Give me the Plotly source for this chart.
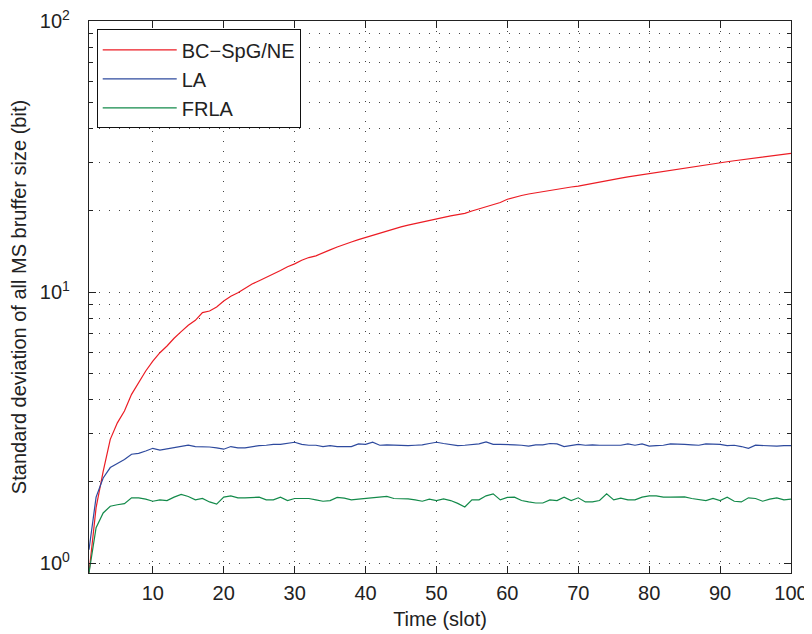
import plotly.graph_objects as go

time_slot = list(range(1, 101))

bc_spg_ne = [0.92, 1.60, 2.18, 2.86, 3.29, 3.64, 4.19, 4.63, 5.11, 5.56,
             5.97, 6.32, 6.75, 7.14, 7.54, 7.86, 8.39, 8.51, 8.80, 9.26,
             9.64, 9.94, 10.3, 10.7, 11.0, 11.3, 11.66, 12.0, 12.4, 12.7,
             13.1, 13.4, 13.6, 13.9, 14.3, 14.65, 15.0, 15.3, 15.6, 15.9,
             16.2, 16.5, 16.8, 17.1, 17.4, 17.65, 17.9, 18.15, 18.4, 18.65,
             18.9, 19.1, 19.3, 19.5, 19.9, 20.25, 20.6, 21.0, 21.4, 22.0,
             22.4, 22.7, 23.0, 23.25, 23.5, 23.7, 23.95, 24.15, 24.4, 24.6,
             24.85, 25.1, 25.4, 25.7, 26.0, 26.3, 26.6, 26.85, 27.1, 27.4,
             27.7, 27.95, 28.2, 28.5, 28.75, 29.0, 29.25, 29.5, 29.75, 30.0,
             30.25, 30.5, 30.75, 31.0, 31.25, 31.5, 31.75, 32.0, 32.25, 32.5]

la = [1.12, 1.75, 2.06, 2.25, 2.33, 2.41, 2.52, 2.54, 2.59, 2.65,
      2.61, 2.64, 2.66, 2.70, 2.72, 2.69, 2.69, 2.68, 2.66, 2.63,
      2.69, 2.66, 2.66, 2.69, 2.71, 2.72, 2.74, 2.74, 2.76, 2.79,
      2.74, 2.72, 2.72, 2.69, 2.71, 2.69, 2.69, 2.69, 2.75, 2.74,
      2.79, 2.72, 2.73, 2.72, 2.72, 2.71, 2.72, 2.73, 2.76, 2.79,
      2.76, 2.74, 2.71, 2.72, 2.74, 2.75, 2.80, 2.74, 2.74, 2.74,
      2.73, 2.72, 2.70, 2.73, 2.73, 2.76, 2.75, 2.69, 2.71, 2.74,
      2.72, 2.73, 2.72, 2.72, 2.72, 2.72, 2.75, 2.72, 2.75, 2.70,
      2.71, 2.72, 2.75, 2.75, 2.74, 2.73, 2.72, 2.75, 2.74, 2.74,
      2.71, 2.72, 2.69, 2.65, 2.72, 2.71, 2.71, 2.70, 2.71, 2.71]

frla = [0.92, 1.35, 1.53, 1.62, 1.64, 1.655, 1.74, 1.74, 1.72, 1.69,
        1.71, 1.70, 1.75, 1.79, 1.76, 1.71, 1.73, 1.68, 1.65, 1.75,
        1.77, 1.74, 1.74, 1.745, 1.75, 1.71, 1.71, 1.75, 1.70, 1.73,
        1.73, 1.73, 1.71, 1.69, 1.70, 1.745, 1.735, 1.71, 1.72, 1.73,
        1.745, 1.745, 1.76, 1.73, 1.73, 1.725, 1.71, 1.69, 1.72, 1.70,
        1.725, 1.70, 1.66, 1.61, 1.71, 1.71, 1.77, 1.80, 1.71, 1.745,
        1.75, 1.70, 1.68, 1.665, 1.665, 1.71, 1.70, 1.75, 1.70, 1.74,
        1.68, 1.68, 1.70, 1.80, 1.71, 1.735, 1.71, 1.71, 1.75, 1.77,
        1.77, 1.75, 1.75, 1.75, 1.755, 1.73, 1.71, 1.70, 1.73, 1.70,
        1.75, 1.69, 1.68, 1.74, 1.73, 1.69, 1.72, 1.74, 1.71, 1.72]

x_ticks = [10, 20, 30, 40, 50, 60, 70, 80, 90, 100]
x_ticklabels = ["10", "20", "30", "40", "50", "60", "70", "80", "90", "100"]
y_ticks = [1, 10, 100]
y_ticklabels = ["10<sup>0</sup>", "10<sup>1</sup>", "10<sup>2</sup>"]
y_minor = [2, 3, 4, 5, 6, 7, 8, 9, 20, 30, 40, 50, 60, 70, 80, 90]

FONT = "Liberation Sans, Arial, Helvetica, sans-serif"
GRID = "#444444"
DASH = "1px,9px"

fig = go.Figure()
fig.add_trace(go.Scatter(x=time_slot, y=bc_spg_ne, mode="lines", name="BC\u2212SpG/NE",
                         line=dict(color="#ec1c24", width=1.2)))
fig.add_trace(go.Scatter(x=time_slot, y=la, mode="lines", name="LA",
                         line=dict(color="#2e4a9e", width=1.2)))
fig.add_trace(go.Scatter(x=time_slot, y=frla, mode="lines", name="FRLA",
                         line=dict(color="#138a4a", width=1.2)))

fig.update_layout(
    width=804, height=627,
    margin=dict(l=81, r=21, t=13, b=62, autoexpand=False),
    paper_bgcolor="white", plot_bgcolor="white",
    font=dict(family=FONT, size=20, color="#222222"),
    showlegend=True,
    legend=dict(x=0.011, y=0.985, xanchor="left", yanchor="top",
                bgcolor="white", bordercolor="#111111", borderwidth=1,
                font=dict(size=20, family=FONT, color="#222222"),
                itemwidth=74, tracegroupgap=0, entrywidth=216),
)

fig.update_xaxes(
    range=[1, 100], tickvals=x_ticks, ticktext=x_ticklabels,
    ticks="inside", ticklen=7, tickwidth=1, tickcolor="#222222",
    showline=True, linecolor="#222222", linewidth=1.3, mirror="allticks",
    showgrid=True, gridcolor=GRID, gridwidth=1, griddash=DASH,
    zeroline=False, ticklabelstandoff=2, automargin=False,
    ticklabeloverflow="allow",
    title=dict(text="Time (slot)", font=dict(size=20, family=FONT), standoff=8),
)

fig.update_yaxes(
    type="log", range=[-0.0369, 2], tickvals=y_ticks, ticktext=y_ticklabels,
    ticks="inside", ticklen=7, tickwidth=1, tickcolor="#222222",
    showline=True, linecolor="#222222", linewidth=1.3, mirror="allticks",
    showgrid=True, gridcolor=GRID, gridwidth=1, griddash=DASH,
    minor=dict(tickvals=y_minor, ticks="inside", ticklen=4, tickcolor="#222222",
               showgrid=True, gridcolor=GRID, gridwidth=1, griddash=DASH),
    zeroline=False, ticklabelstandoff=14, automargin=False,
    ticklabeloverflow="allow",
    title=dict(text="Standard deviation of all MS bruffer size (bit)",
               font=dict(size=20, family=FONT), standoff=8),
)

fig.write_html("out.html")
